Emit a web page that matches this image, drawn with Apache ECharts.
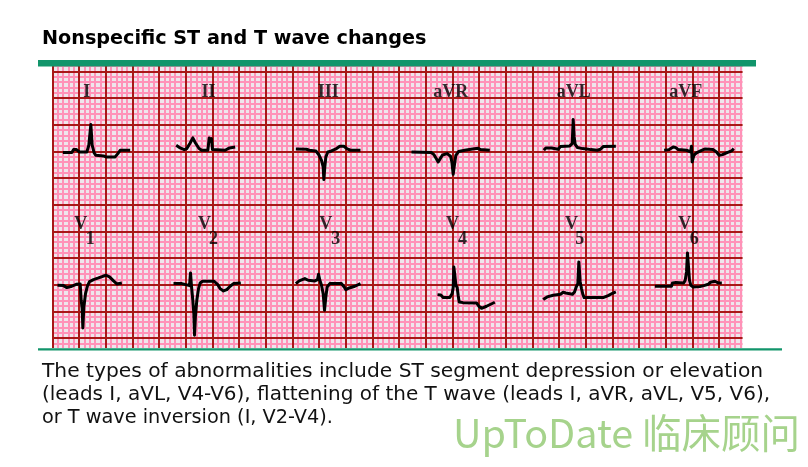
<!DOCTYPE html>
<html><head><meta charset="utf-8">
<script src="https://cdn.jsdelivr.net/npm/echarts@6/dist/echarts.min.js"></script>
<style>html,body{margin:0;padding:0;background:#fff}#c{width:808px;height:467px}</style>
</head><body><div id="c"></div>
<script>
// ECG strips: [time (mm of paper), amplitude (mm from the lead's baseline)]
const leadI   = [[1.94,-0.25],[3.63,-0.25],[3.94,0.31],[4.19,0.63],[4.5,0.31],[5.06,-0.13],[6.44,-0.13],[6.81,1.13],[7.19,5.0],[7.44,1.13],[7.81,-0.31],[8.13,-0.75],[9.56,-0.88],[10.0,-1.06],[11.75,-1.06],[12.25,-0.44],[12.69,0.19],[14.56,0.19]];
const leadII  = [[23.19,1.13],[23.94,0.63],[24.69,0.31],[25.19,0.5],[25.81,1.56],[26.31,2.5],[26.81,1.56],[27.44,0.56],[27.94,0.19],[29.13,0.19],[29.38,2.5],[29.63,1.88],[29.81,2.38],[30.0,0.31],[32.38,0.19],[33.19,0.63],[34.25,0.81]];
const leadIII = [[45.63,0.44],[47.63,0.38],[48.13,0.19],[49.38,0.06],[50.0,-0.75],[50.44,-1.69],[50.75,-2.94],[50.88,-5.31],[51.06,-2.94],[51.25,-1.06],[51.63,-0.13],[52.31,0.06],[53.25,0.5],[53.88,0.94],[54.63,0.94],[55.25,0.44],[55.88,0.19],[57.75,0.19]];
const leadAVR = [[67.31,-0.13],[71.06,-0.25],[71.56,-0.69],[72.0,-1.44],[72.31,-2.0],[72.69,-1.38],[73.13,-0.69],[74.0,-0.44],[74.63,-0.94],[74.88,-2.0],[75.13,-4.31],[75.38,-2.44],[75.63,-0.75],[76.13,-0.06],[77.31,0.19],[78.75,0.44],[79.81,0.56],[80.25,0.31],[82.0,0.19]];
const leadAVL = [[92.13,0.19],[92.5,0.63],[93.56,0.63],[93.88,0.38],[94.81,0.38],[95.25,0.88],[97.0,1.0],[97.44,1.44],[97.63,5.94],[97.81,2.69],[98.0,1.31],[98.44,0.69],[99.38,0.5],[100.13,0.44],[100.5,0.69],[100.94,0.31],[102.13,0.19],[102.75,0.38],[103.25,0.88],[105.63,0.94]];
const leadAVF = [[114.69,0.19],[115.63,0.31],[116.38,0.81],[116.88,0.69],[117.31,0.31],[118.88,0.19],[119.63,-0.13],[119.81,0.94],[119.94,-2.0],[120.25,-0.75],[120.75,-0.31],[121.5,0.06],[122.38,0.44],[123.88,0.31],[124.5,-0.13],[125.0,-0.75],[125.63,-0.63],[126.38,-0.31],[127.31,0.06],[127.75,0.5]];
const leadV1  = [[0.94,-0.13],[2.06,-0.19],[2.69,-0.56],[3.63,-0.31],[4.44,0.06],[5.19,0.13],[5.38,-2.94],[5.56,-4.5],[5.69,-8.13],[5.88,-4.19],[6.19,-1.69],[6.56,-0.25],[6.94,0.56],[7.69,0.94],[8.63,1.25],[9.44,1.56],[10.06,1.75],[10.69,1.44],[11.44,0.69],[12.06,0.13],[13.0,0.31]];
const leadV2  = [[22.69,0.19],[24.25,0.19],[25.19,-0.06],[25.69,-0.19],[25.88,2.19],[26.06,-0.31],[26.31,-2.94],[26.5,-5.44],[26.63,-9.5],[26.81,-5.75],[27.06,-2.94],[27.38,-0.75],[27.69,0.31],[28.13,0.63],[30.31,0.63],[30.94,0.06],[31.44,-0.75],[32.06,-1.19],[32.69,-0.94],[33.31,-0.31],[33.94,0.19],[35.31,0.31]];
const leadV3  = [[45.63,0.19],[46.25,0.69],[47.31,1.13],[47.94,0.81],[49.19,0.69],[49.69,0.94],[49.88,1.94],[50.13,0.81],[50.44,-0.13],[50.75,-1.69],[51.0,-4.81],[51.25,-2.31],[51.5,-0.44],[52.0,0.19],[54.19,0.19],[54.69,-0.44],[55.0,-0.94],[55.63,-0.63],[56.69,-0.31],[57.75,0.19]];
const leadV4  = [[72.19,-1.88],[72.81,-1.94],[73.25,-2.44],[74.5,-2.44],[74.94,-1.69],[75.13,-0.56],[75.25,3.31],[75.44,1.75],[75.63,-0.13],[75.88,-0.56],[76.06,-2.0],[76.25,-3.25],[77.0,-3.38],[79.5,-3.44],[79.94,-4.06],[80.44,-4.44],[81.38,-4.06],[82.94,-3.31]];
const leadV5  = [[92.0,-2.81],[92.75,-2.31],[93.88,-2.0],[95.25,-1.81],[95.75,-1.44],[96.25,-1.56],[97.5,-1.81],[97.88,-1.38],[98.25,-0.31],[98.5,0.19],[98.69,4.25],[98.94,0.5],[99.19,-0.75],[99.44,-1.81],[99.69,-2.44],[103.25,-2.44],[104.19,-2.06],[105.0,-1.63],[105.63,-1.38]];
const leadV6  = [[112.94,-0.31],[116.06,-0.31],[116.25,0.31],[116.88,0.38],[118.38,0.31],[118.63,0.81],[118.88,2.38],[119.06,5.94],[119.25,3.31],[119.44,0.81],[119.69,-0.13],[120.13,-0.44],[121.38,-0.38],[122.13,-0.19],[122.94,0.06],[123.38,0.44],[124.19,0.63],[124.81,0.31],[125.5,0.31]];

const leadNames   = ['I','II','III','aVR','aVL','aVF','V1','V2','V3','V4','V5','V6'];
const leadTraces  = [leadI,leadII,leadIII,leadAVR,leadAVL,leadAVF,leadV1,leadV2,leadV3,leadV4,leadV5,leadV6];
const leadRow     = [0,0,0,0,0,0,1,1,1,1,1,1];
// label centres (mm on the paper)
const labelX      = [6.44,29.25,51.69,74.69,97.75,118.75,5.31,28.5,51.25,75.0,97.31,118.56];
const subX        = [7.06,30.19,53.13,76.88,98.88,120.31];
const subText     = ['1','2','3','4','5','6'];

const titleText = 'Nonspecific ST and T wave changes';
const captionLines = [
  'The types of abnormalities include ST segment depression or elevation',
  '(leads I, aVL, V4-V6), flattening of the T wave (leads I, aVR, aVL, V5, V6),',
  'or T wave inversion (I, V2-V4).'
];
const watermark = 'UpToDate 临床顾问';

// layout
const rowBase = [40, 15];
const rowLabelY = [51, 26.3];
const subLabelY = 23.45;
const G = {left:52.5, top:44.6, width:693.33, height:320};
const captionStretch = [1.065, 1.052, 1.015];

const chart = echarts.init(document.getElementById('c'), null, {renderer:'canvas'});
const axBase = {type:'value', axisLine:{show:false}, axisTick:{show:false}, axisLabel:{show:false}};
const series = [];
leadTraces.forEach((tr, i) => {
  series.push({
    type:'line', xAxisIndex:1, yAxisIndex:1, showSymbol:false, symbol:'none', animation:false,
    data: tr.map(p => [p[0], rowBase[leadRow[i]] + p[1]]),
    lineStyle:{color:'#000', width:3, join:'round'}, z:5
  });
});
const lbl = [];
leadNames.forEach((n, i) => {
  const isV = n[0] === 'V';
  lbl.push({name: isV ? 'V' : n, value:[labelX[i], rowLabelY[leadRow[i]]]});
});
subText.forEach((s, i) => lbl.push({name:s, value:[subX[i], subLabelY]}));
series.push({
  type:'scatter', xAxisIndex:1, yAxisIndex:1, symbolSize:1, itemStyle:{color:'rgba(0,0,0,0)'},
  data: lbl, animation:false, z:6,
  label:{show:true, position:'inside', formatter:'{b}', color:'#000',
    fontFamily:'Liberation Serif', fontWeight:'bold', fontSize:18}
});

const graphic = [
  {type:'rect', shape:{x:0,y:0,width:808,height:60}, style:{fill:'#fff'}, z:100},
  {type:'rect', shape:{x:742.6,y:60,width:70,height:292}, style:{fill:'#fff'}, z:100},
  {type:'rect', shape:{x:0,y:348,width:808,height:120}, style:{fill:'#fff'}, z:100},
  {type:'rect', shape:{x:38,y:60,width:718,height:6.6}, style:{fill:'#12956b'}, z:101},
  {type:'rect', shape:{x:38,y:348.3,width:744,height:2.2}, style:{fill:'#12956b'}, z:101},
  {type:'text', x:42, y:39.5, style:{text:titleText, fill:'#000', font:'bold 19.2px "DejaVu Sans"', verticalAlign:'middle'}, z:102},
  {type:'text', x:453, y:433, style:{text:watermark, fill:'#a6d38c', font:'39.5px "Noto Sans CJK SC"', verticalAlign:'middle'}, z:102}
];
captionLines.forEach((t, i) => graphic.push({type:'text', x:42, y:372 + i*23, scaleX:captionStretch[i],
  style:{text:t, fill:'#111', font:'19px "DejaVu Sans"', verticalAlign:'middle'}, z:102}));

chart.setOption({
  animation:false,
  grid:[Object.assign({show:true, backgroundColor:'#eee6ec', borderWidth:0}, G), Object.assign({show:false}, G)],
  xAxis:[
    Object.assign({gridIndex:0, min:0, max:130, interval:1, splitLine:{show:true, lineStyle:{color:'#ff92b8', width:2}}}, axBase),
    Object.assign({gridIndex:1, min:0, max:130, interval:5, z:1, splitLine:{show:true, lineStyle:{color:'#a81818', width:2}}}, axBase)
  ],
  yAxis:[
    Object.assign({gridIndex:0, min:0, max:60, interval:1, splitLine:{show:true, lineStyle:{color:'#ff92b8', width:2}}}, axBase),
    Object.assign({gridIndex:1, min:0, max:60, interval:5, z:1, splitLine:{show:true, lineStyle:{color:'#a81818', width:2}}}, axBase)
  ],
  series: series,
  graphic: graphic
});
</script></body></html>
